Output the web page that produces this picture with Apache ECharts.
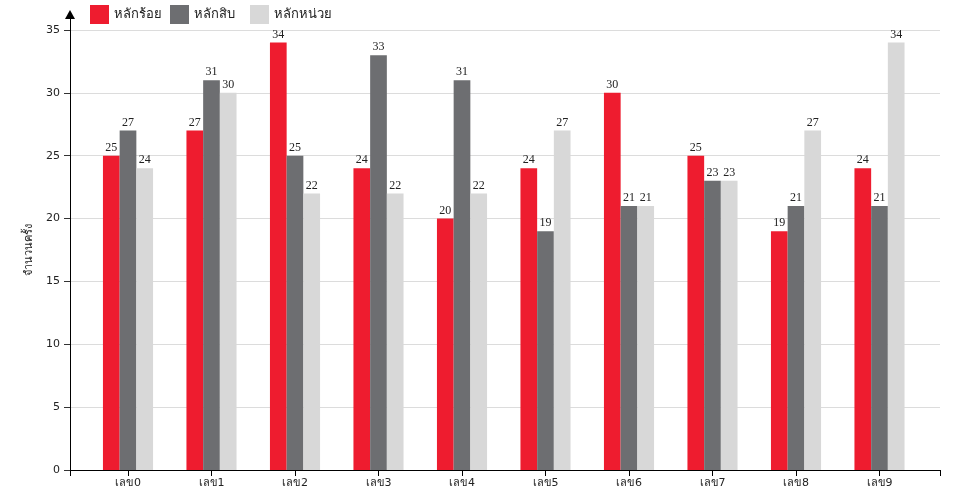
<!DOCTYPE html>
<html>
<head>
<meta charset="utf-8">
<script src="https://cdn.jsdelivr.net/npm/echarts@6/dist/echarts.min.js"></script>
<style>
  html, body { margin: 0; padding: 0; background: #fff; }
  #chart { width: 960px; height: 500px; }
</style>
</head>
<body>
<div id="chart"></div>
<script>
// categories and series
const categories = ['เลข0', 'เลข1', 'เลข2', 'เลข3', 'เลข4', 'เลข5', 'เลข6', 'เลข7', 'เลข8', 'เลข9']
const seriesNames = ['หลักร้อย', 'หลักสิบ', 'หลักหน่วย']
const hundreds = [25, 27, 34, 24, 20, 24, 30, 25, 19, 24]
const tens = [27, 31, 25, 33, 31, 19, 21, 23, 21, 21]
const units = [24, 30, 22, 22, 22, 27, 21, 23, 27, 34]
const yTitle = 'จำนวนครั้ง'

const colors = ['#ee1c2f', '#6d6e71', '#d8d8d8']
const labelFont = { fontFamily: 'Liberation Serif', fontSize: 12, color: '#222' }
const sansFont = 'DejaVu Sans, sans-serif'

const chart = echarts.init(document.getElementById('chart'))

const makeSeries = (name, data, i) => ({
  name,
  type: 'bar',
  xAxisIndex: 2,
  yAxisIndex: 2,
  data,
  barWidth: 16.7,
  barGap: '0%',
  itemStyle: { color: colors[i] },
  label: { show: true, position: 'top', distance: 2, ...labelFont }
})

const option = {
  animation: false,
  color: colors,
  legend: seriesNames.map((n, i) => ({
    data: [n],
    left: 90 + i * 80,
    top: 5,
    padding: 0,
    itemWidth: 19,
    itemHeight: 19,
    icon: 'rect',
    textStyle: { fontSize: 13, color: '#222', fontFamily: sansFont }
  })),
  grid: [
    // frame: gridlines, y ticks, x axis line
    { left: 70, right: 20, top: 30, bottom: 30 },
    // y axis line with arrow
    { left: 70, top: 14.5, bottom: 30, width: 10 },
    // bars
    { left: 86.25, right: 38.75, top: 30, bottom: 30 }
  ],
  xAxis: [
    {
      gridIndex: 0, type: 'value', min: 0, max: 1, interval: 1,
      axisLine: { show: true, lineStyle: { color: '#000' } },
      axisTick: { show: true, length: 6, lineStyle: { color: '#000' } },
      axisLabel: { show: false },
      splitLine: { show: false }
    },
    {
      gridIndex: 1, type: 'value', show: false
    },
    {
      gridIndex: 2, type: 'category', data: categories,
      axisLine: { show: false },
      axisTick: { show: true, alignWithLabel: true, length: 6, lineStyle: { color: '#000' } },
      axisLabel: { fontSize: 11, color: '#222', margin: 8, fontFamily: sansFont }
    }
  ],
  yAxis: [
    {
      gridIndex: 0, type: 'value', min: 0, max: 35, interval: 5,
      name: yTitle, nameLocation: 'middle', nameGap: 35,
      nameTextStyle: { fontSize: 11, color: '#222', fontFamily: sansFont },
      axisLine: { show: false },
      axisTick: { show: true, length: 6, lineStyle: { color: '#333' } },
      axisLabel: { fontSize: 11, color: '#222', margin: 10, fontFamily: sansFont },
      splitLine: { show: true, lineStyle: { color: '#dcdcdc' } }
    },
    {
      gridIndex: 1, type: 'value', min: 0, max: 1,
      axisLine: {
        show: true,
        symbol: ['none', 'triangle'],
        symbolSize: [10, 9],
        lineStyle: { color: '#000', width: 1 }
      },
      axisTick: { show: false },
      axisLabel: { show: false },
      splitLine: { show: false }
    },
    {
      gridIndex: 2, type: 'value', min: 0, max: 35, show: false
    }
  ],
  series: [
    makeSeries(seriesNames[0], hundreds, 0),
    makeSeries(seriesNames[1], tens, 1),
    makeSeries(seriesNames[2], units, 2)
  ]
}

chart.setOption(option)
</script>
</body>
</html>
